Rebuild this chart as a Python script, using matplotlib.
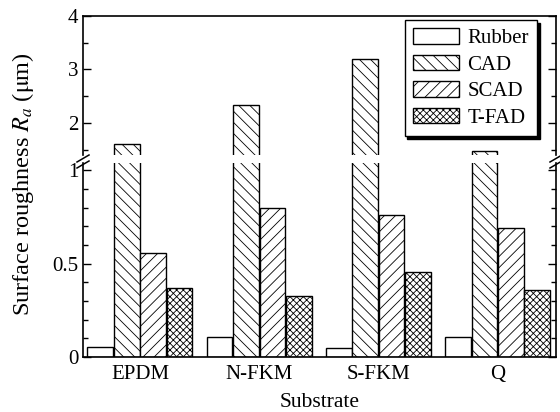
import numpy as np
import matplotlib
matplotlib.use("Agg")
from matplotlib import pyplot as plt
from matplotlib.lines import Line2D

plt.rcParams['font.family'] = ['Liberation Serif', 'DejaVu Serif']
plt.rcParams['mathtext.fontset'] = 'stix'
plt.rcParams['hatch.linewidth'] = 0.6

substrates = ["EPDM", "N-FKM", "S-FKM", "Q"]
series = ["Rubber", "CAD", "SCAD", "T-FAD"]
rubber = [0.055, 0.109, 0.047, 0.109]
cad = [1.60, 2.33, 3.19, 1.48]
scad = [0.556, 0.80, 0.761, 0.693]
tfad = [0.368, 0.327, 0.457, 0.359]
values = [rubber, cad, scad, tfad]
hatches = [None, '\\\\\\', '///', 'xxxxx']

fig = plt.figure(figsize=(5.6, 4.12), dpi=100)
W, H = 560, 412
x0, x1 = 83, 556


def fax(top, bottom):
    return fig.add_axes([x0 / W, 1 - bottom / H, (x1 - x0) / W, (bottom - top) / H])


ax_up = fax(16, 155)
ax_lo = fax(163, 357)

x = np.arange(len(substrates))
width = 0.215
offs = [-1.5, -0.5, 0.5, 1.5]
for ax in (ax_up, ax_lo):
    for k in range(4):
        ax.bar(x + offs[k] * 0.222, values[k], width, color='white', edgecolor='black',
               linewidth=1.0, hatch=hatches[k], label=series[k])
    ax.set_xlim(-0.478, 3.49)
    for s in ax.spines.values():
        s.set_linewidth(1.2)
    ax.tick_params(axis='y', which='both', direction='in', left=True, right=True,
                   labelsize=15, width=1)
    ax.tick_params(axis='y', which='major', length=6)
    ax.tick_params(axis='y', which='minor', length=3.5)

ax_up.set_ylim(1.4, 4)
ax_up.set_yticks([2, 3, 4])
ax_up.set_yticks([1.5, 2.5, 3.5], minor=True)
ax_up.set_yticklabels(["2", "3", "4"])
ax_up.spines['bottom'].set_visible(False)
ax_up.tick_params(axis='x', bottom=False, labelbottom=False)

ax_lo.set_ylim(0, 1.04)
ax_lo.set_yticks([0, 0.5, 1])
ax_lo.set_yticklabels(["0", "0.5", "1"])
ax_lo.set_yticks(np.arange(0.1, 1.05, 0.1), minor=True)
ax_lo.spines['top'].set_visible(False)
ax_lo.set_xticks(x)
ax_lo.set_xticklabels(substrates, fontsize=15)
ax_lo.tick_params(axis='x', length=0, pad=6)
ax_lo.set_xlabel("Substrate", fontsize=15.5, labelpad=6)

fig.text(23 / W, 1 - 184 / H, r"Surface roughness $R_a$ ($\mathrm{\mu}$m)",
         rotation=90, ha='center', va='center', fontsize=17.5)

# break marks on both side spines
for xs in (x0, x1):
    for dy in (0, 6):
        fig.add_artist(Line2D([(xs - 6) / W, (xs + 6) / W],
                              [1 - (162 + dy) / H, 1 - (155 + dy) / H],
                              color='black', lw=1.1, transform=fig.transFigure))

leg = ax_up.legend(loc='upper right', bbox_to_anchor=((537 - x0) / (x1 - x0), (155 - 20) / 139),
                   borderaxespad=0, fontsize=15, frameon=True, fancybox=False,
                   shadow={'color': 'black', 'alpha': 1}, edgecolor='black',
                   handlelength=2.2, handleheight=0.75, labelspacing=0.32,
                   handletextpad=0.4, borderpad=0.4)
leg.get_frame().set_linewidth(1.0)

fig.savefig("out.png", dpi=100)
